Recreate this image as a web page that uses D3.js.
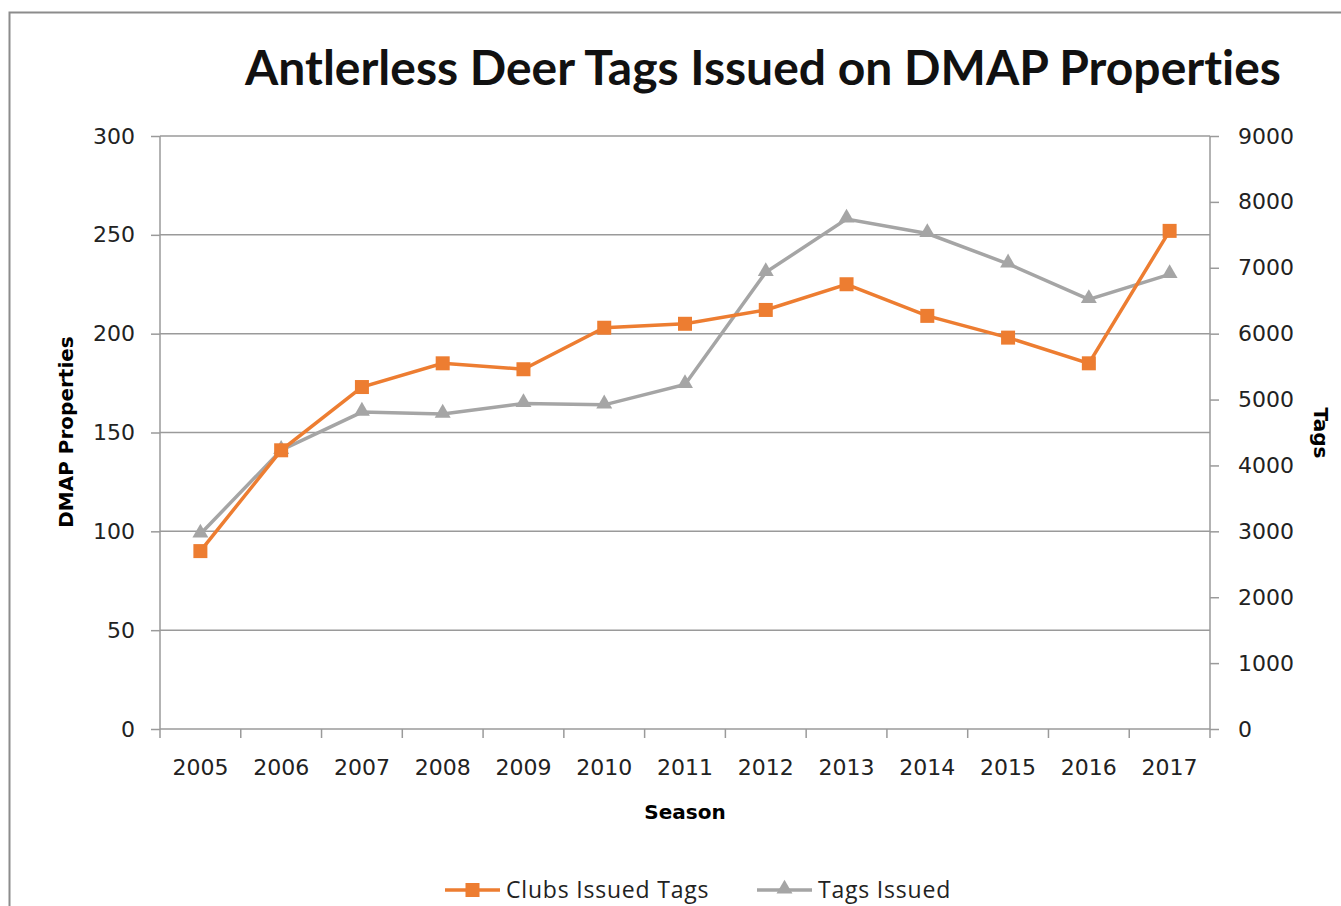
<!DOCTYPE html>
<html>
<head>
<meta charset="utf-8">
<script src="https://cdn.jsdelivr.net/npm/d3@7"></script>
<style>
  body { margin: 0; background: #fff; }
  .tick text { font-family: "DejaVu Sans", sans-serif; font-size: 22px; fill: #222; }
</style>
</head>
<body>
<div id="chart"></div>
<script>
// data
const seasons = ['2005','2006','2007','2008','2009','2010','2011','2012','2013','2014','2015','2016','2017'];
const clubsIssuedTags = [90, 141, 173, 185, 182, 203, 205, 212, 225, 209, 198, 185, 252];
const tagsIssued = [2960, 4230, 4810, 4780, 4940, 4920, 5230, 6930, 7740, 7520, 7060, 6520, 6900];
const leftTicks = [0, 50, 100, 150, 200, 250, 300];
const rightTicks = [0, 1000, 2000, 3000, 4000, 5000, 6000, 7000, 8000, 9000];

const W = 1341, H = 906;
const margin = {top: 136, right: 131, bottom: 177, left: 160};
const width = W - margin.left - margin.right;
const height = H - margin.top - margin.bottom;

const orange = '#ed7d31', grey = '#a5a5a5', axisCol = '#9a9a9a';

let svg = d3.select('#chart').append('svg')
    .attr('width', W)
    .attr('height', H);

// chart border
svg.append('path')
    .attr('d', 'M9.5,' + H + 'V12.5H' + W)
    .attr('fill', 'none')
    .attr('stroke', '#8c8c8c')
    .attr('stroke-width', 2);

svg.append('text')
    .attr('x', 763).attr('y', 85)
    .attr('text-anchor', 'middle')
    .style('font-family', 'Lato, sans-serif')
    .style('font-weight', 'bold')
    .style('font-size', '48px')
    .style('font-variant-ligatures', 'none')
    .style('fill', '#111')
    .text('Antlerless Deer Tags Issued on DMAP Properties');

let g = svg.append('g')
    .attr('transform', 'translate(' + margin.left + ',' + margin.top + ')');

let x = d3.scaleBand().domain(seasons).range([0, width]);
let yL = d3.scaleLinear().domain([0, 300]).range([height, 0]);
let yR = d3.scaleLinear().domain([0, 9000]).range([height, 0]);

// gridlines
g.append('g').selectAll('line')
    .data(leftTicks.slice(1))
    .enter().append('line')
    .attr('x1', 0).attr('x2', width)
    .attr('y1', d => yL(d)).attr('y2', d => yL(d))
    .attr('stroke', axisCol).attr('stroke-width', 1.5);

// left axis
let axL = g.append('g')
    .call(d3.axisLeft(yL).tickValues(leftTicks).tickSize(9).tickPadding(16));
// right axis
let axR = g.append('g')
    .attr('transform', 'translate(' + width + ',0)')
    .call(d3.axisRight(yR).tickValues(rightTicks).tickFormat(d3.format('d')).tickSize(9).tickPadding(19));
// bottom axis, ticks on category boundaries
let axB = g.append('g')
    .attr('transform', 'translate(0,' + height + ')')
    .call(d3.axisBottom(x).tickSize(0).tickPadding(30));
axB.selectAll('.tick').append('line')
    .attr('x1', -x.bandwidth() / 2).attr('x2', -x.bandwidth() / 2)
    .attr('y1', 0).attr('y2', 9);
axB.append('line')
    .attr('x1', width).attr('x2', width).attr('y1', 0).attr('y2', 9);

[axL, axR, axB].forEach(a => {
    a.selectAll('path, line').attr('stroke', axisCol).attr('stroke-width', 1.5);
});
axB.select('.domain').attr('d', 'M0,0H' + width);
axL.select('.domain').attr('d', 'M0,0V' + height);
axR.select('.domain').attr('d', 'M0,0V' + height);

// axis titles
svg.append('text')
    .attr('transform', 'translate(73,432) rotate(-90)')
    .attr('text-anchor', 'middle')
    .style('font-family', '"DejaVu Sans", sans-serif').style('font-weight', 'bold').style('font-size', '20px')
    .text('DMAP Properties');
svg.append('text')
    .attr('transform', 'translate(1314,433) rotate(90)')
    .attr('text-anchor', 'middle')
    .style('font-family', '"DejaVu Sans", sans-serif').style('font-weight', 'bold').style('font-size', '20px')
    .text('Tags');
svg.append('text')
    .attr('x', 685).attr('y', 819)
    .attr('text-anchor', 'middle')
    .style('font-family', '"DejaVu Sans", sans-serif').style('font-weight', 'bold').style('font-size', '20px')
    .text('Season');

const cx = d => x(d) + x.bandwidth() / 2;

let lineL = d3.line().x((d, i) => cx(seasons[i])).y(d => yL(d));
let lineR = d3.line().x((d, i) => cx(seasons[i])).y(d => yR(d));

g.append('path').datum(tagsIssued)
    .attr('d', lineR).attr('fill', 'none').attr('stroke', grey).attr('stroke-width', 3.5);
const tri = d3.symbol().type(d3.symbolTriangle).size(110);
g.selectAll('.tri').data(tagsIssued).enter().append('path')
    .attr('class', 'tri')
    .attr('d', tri)
    .attr('transform', (d, i) => 'translate(' + cx(seasons[i]) + ',' + (yR(d) - 1) + ')')
    .attr('fill', grey);

g.append('path').datum(clubsIssuedTags)
    .attr('d', lineL).attr('fill', 'none').attr('stroke', orange).attr('stroke-width', 3.5);
g.selectAll('.sq').data(clubsIssuedTags).enter().append('rect')
    .attr('class', 'sq')
    .attr('x', (d, i) => cx(seasons[i]) - 7)
    .attr('y', d => yL(d) - 7)
    .attr('width', 14).attr('height', 14)
    .attr('fill', orange);

// legend
let legend = svg.append('g');
const items = [
    {name: 'Clubs Issued Tags', color: orange, x: 445, type: 'sq'},
    {name: 'Tags Issued', color: grey, x: 757, type: 'tri'}
];
items.forEach(it => {
    legend.append('line')
        .attr('x1', it.x).attr('x2', it.x + 55).attr('y1', 890).attr('y2', 890)
        .attr('stroke', it.color).attr('stroke-width', 3.5);
    if (it.type === 'sq') {
        legend.append('rect').attr('x', it.x + 20.5).attr('y', 883).attr('width', 14).attr('height', 14).attr('fill', it.color);
    } else {
        legend.append('path').attr('d', tri).attr('transform', 'translate(' + (it.x + 27.5) + ',889)').attr('fill', it.color);
    }
    legend.append('text')
        .attr('x', it.x + 61).attr('y', 898)
        .style('font-family', '"Open Sans", sans-serif').style('font-size', '23px')
        .style('letter-spacing', '0.8px').style('fill', '#222')
        .text(it.name);
});
</script>
</body>
</html>
